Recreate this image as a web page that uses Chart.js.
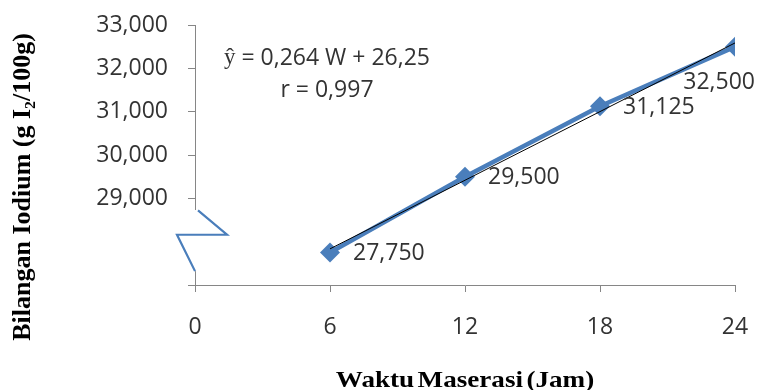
<!DOCTYPE html>
<html><head><meta charset="utf-8">
<script src="https://cdn.jsdelivr.net/npm/chart.js@4"></script>
<style>html,body{margin:0;padding:0;background:#fff}#wrap{width:758px;height:390px}</style>
</head><body><div id="wrap"><canvas id="c" width="758" height="390"></canvas></div>
<script>
const waktu = [6, 12, 18, 24];
const iodium = [27.75, 29.5, 31.125, 32.5];
const trendX = [6, 24];
const trendY = [27.834, 32.586];
const xTicks = [0, 6, 12, 18, 24];
const yTicks = [27, 28, 29, 30, 31, 32, 33];
const yLabelled = [29, 30, 31, 32, 33];
const eqHat = 'ŷ';
const eqLines = [' = 0,264 W + 26,25', 'r = 0,997'];
const xTitle = 'Waktu Maserasi (Jam)';
const yTitle = 'Bilangan Iodium (g I\u2082/100g)';

const fmt = v => v.toFixed(3).replace('.', ',');
const BLUE = '#4A7EBB';
const AXIS = '#868686';
const TXT = '#333333';
const SANS = "'Open Sans', 'Liberation Sans', sans-serif";
const SERIF = "'Liberation Serif', 'DejaVu Serif', serif";

const decor = {
  id: 'decor',
  beforeDatasetsDraw(chart) {
    const {ctx, scales: {x, y}} = chart;
    const ax = x.getPixelForValue(0);
    ctx.save();
    ctx.strokeStyle = AXIS;
    ctx.lineWidth = 1;
    ctx.beginPath();
    ctx.moveTo(ax + 0.5, y.getPixelForValue(33));
    ctx.lineTo(ax + 0.5, y.getPixelForValue(28.73));
    ctx.moveTo(ax + 0.5, y.getPixelForValue(27.32));
    ctx.lineTo(ax + 0.5, y.getPixelForValue(27));
    ctx.stroke();
    // axis break symbol
    ctx.strokeStyle = BLUE;
    ctx.lineWidth = 2.2;
    ctx.beginPath();
    ctx.moveTo(ax + 3, y.getPixelForValue(28.72));
    ctx.lineTo(ax + 32, y.getPixelForValue(28.16));
    ctx.lineTo(ax - 18, y.getPixelForValue(28.16));
    ctx.lineTo(ax, y.getPixelForValue(27.32));
    ctx.stroke();
    ctx.restore();
  },
  afterDatasetsDraw(chart) {
    const {ctx, chartArea} = chart;
    const meta = chart.getDatasetMeta(0);
    ctx.save();
    ctx.font = '23px ' + SANS;
    ctx.fillStyle = TXT;
    ctx.textBaseline = 'middle';
    meta.data.forEach((pt, i) => {
      const v = iodium[i];
      if (i === meta.data.length - 1) {
        ctx.textAlign = 'right';
        ctx.fillText(fmt(v), pt.x + 20, pt.y + 36);
      } else {
        ctx.textAlign = 'left';
        ctx.fillText(fmt(v), pt.x + 23, pt.y + 1);
      }
    });
    // regression equation
    const cx = chartArea.left + 132;
    ctx.font = '23px ' + SERIF;
    const wHat = ctx.measureText(eqHat).width;
    ctx.font = '23px ' + SANS;
    const wRest = ctx.measureText(eqLines[0]).width;
    const x0 = cx - (wHat + wRest) / 2;
    ctx.textAlign = 'left';
    ctx.font = '23px ' + SERIF;
    ctx.fillText(eqHat, x0, chartArea.top + 33);
    ctx.font = '23px ' + SANS;
    ctx.fillText(eqLines[0], x0 + wHat, chartArea.top + 33);
    ctx.textAlign = 'center';
    ctx.fillText(eqLines[1], cx, chartArea.top + 65);
    // axis titles
    ctx.fillStyle = '#000';
    ctx.textAlign = 'center';
    ctx.save();
    ctx.font = 'bold 24px ' + SERIF;
    ctx.wordSpacing = '-3px';
    ctx.translate((chartArea.left + chartArea.right) / 2, 381);
    ctx.scale(1.13, 1);
    ctx.fillText(xTitle, 0, 0);
    ctx.restore();
    ctx.font = 'bold 26px ' + SERIF;
    ctx.translate(23, chartArea.top + 162);
    ctx.rotate(-Math.PI / 2);
    ctx.fillText(yTitle, 0, 0);
    ctx.restore();
  }
};

new Chart(document.getElementById('c'), {
  type: 'scatter',
  data: {
    datasets: [
      {
        data: waktu.map((w, i) => ({x: w, y: iodium[i]})),
        showLine: true,
        borderColor: BLUE,
        backgroundColor: BLUE,
        borderWidth: 4.5,
        pointStyle: 'rectRot',
        pointRadius: 10,
        pointBorderWidth: 0,
        order: 1
      },
      {
        data: trendX.map((w, i) => ({x: w, y: trendY[i]})),
        showLine: true,
        borderColor: '#000000',
        borderWidth: 1,
        pointRadius: 0,
        order: 0
      }
    ]
  },
  options: {
    responsive: false,
    animation: false,
    layout: {padding: {top: 25, right: 23, left: 0, bottom: 0}},
    plugins: {legend: {display: false}, tooltip: {enabled: false}},
    scales: {
      x: {
        type: 'linear', min: 0, max: 24,
        afterBuildTicks: s => { s.ticks = xTicks.map(v => ({value: v})); },
        afterFit: s => { s.height = 105; s.paddingLeft = 0; s.paddingRight = 0; },
        grid: {drawOnChartArea: false, drawTicks: true, tickLength: 7, color: AXIS},
        border: {display: true, color: AXIS},
        ticks: {padding: 22, color: TXT, font: {family: SANS, size: 23}, callback: v => String(v)}
      },
      y: {
        type: 'linear', min: 27, max: 33,
        afterBuildTicks: s => { s.ticks = yTicks.map(v => ({value: v})); },
        afterFit: s => { s.width = 195; s.paddingTop = 0; s.paddingBottom = 0; },
        grid: {drawOnChartArea: false, drawTicks: true, tickLength: 7,
               color: c => (c.tick && c.tick.value === 28) ? 'rgba(0,0,0,0)' : AXIS},
        border: {display: false},
        ticks: {padding: 20, color: TXT, font: {family: SANS, size: 23},
                callback: v => yLabelled.includes(v) ? fmt(v) : ''}
      }
    }
  },
  plugins: [decor]
});
</script>
</body></html>
